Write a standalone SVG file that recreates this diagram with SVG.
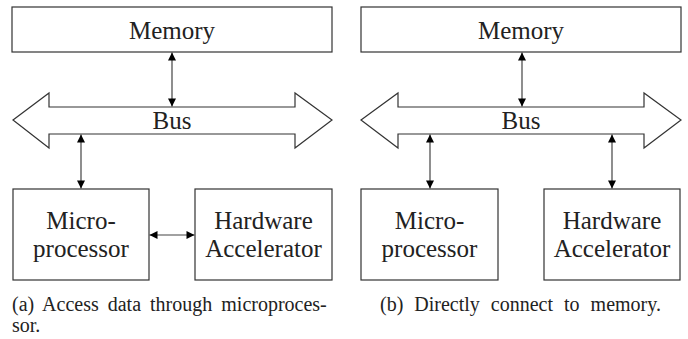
<svg xmlns="http://www.w3.org/2000/svg" width="688" height="339" viewBox="0 0 688 339">
  <style>
    .box { fill: #fff; stroke: #333; stroke-width: 1.2; }
    .bus { fill: #fff; stroke: #333; stroke-width: 1.2; stroke-linejoin: miter; }
    .lbl { font-family: 'Liberation Serif', Tinos, 'Times New Roman', 'DejaVu Serif', serif; font-size: 25px; fill: #222; text-anchor: middle; }
    .cap { font-family: 'Liberation Serif', Tinos, 'Times New Roman', 'DejaVu Serif', serif; font-size: 20px; fill: #222; }
    .link { stroke: #444; stroke-width: 1.2; fill: none; marker-start: url(#tip); marker-end: url(#tip); }
  </style>
  <defs>
    <marker id="tip" viewBox="0 0 10 10" refX="10" refY="5" markerWidth="9" markerHeight="8" markerUnits="userSpaceOnUse" orient="auto-start-reverse">
      <path d="M0,0 L10,5 L0,10 z" fill="#000"/>
    </marker>
  </defs>
  <rect width="688" height="339" fill="#fff"/>

  <!-- (a) access through the microprocessor -->
  <g id="a-memory">
    <rect class="box" x="12" y="7" width="320" height="45"/>
    <text class="lbl" x="172" y="38.5">Memory</text>
  </g>
  <g id="a-bus">
    <polygon class="bus" points="13,120 49,93 49,107 295,107 295,93 332,120 295,148 295,134 49,134 49,148"/>
    <text class="lbl" x="172" y="129">Bus</text>
  </g>
  <g id="a-micro">
    <rect class="box" x="13" y="189" width="136" height="91"/>
    <text class="lbl" x="81" y="229">Micro-</text>
    <text class="lbl" x="81" y="257">processor</text>
  </g>
  <g id="a-accel">
    <rect class="box" x="195" y="189" width="137" height="91"/>
    <text class="lbl" x="263.5" y="229">Hardware</text>
    <text class="lbl" x="263.5" y="257">Accelerator</text>
  </g>

  <!-- (b) accelerator attached directly to the bus -->
  <g id="b-memory">
    <rect class="box" x="361" y="7" width="320" height="45"/>
    <text class="lbl" x="521" y="38.5">Memory</text>
  </g>
  <g id="b-bus">
    <polygon class="bus" points="361,120 398,93 398,107 644,107 644,93 681,120 644,148 644,134 398,134 398,148"/>
    <text class="lbl" x="521" y="129">Bus</text>
  </g>
  <g id="b-micro">
    <rect class="box" x="361" y="189" width="137" height="91"/>
    <text class="lbl" x="429.5" y="229">Micro-</text>
    <text class="lbl" x="429.5" y="257">processor</text>
  </g>
  <g id="b-accel">
    <rect class="box" x="544" y="189" width="136" height="91"/>
    <text class="lbl" x="612" y="229">Hardware</text>
    <text class="lbl" x="612" y="257">Accelerator</text>
  </g>

  <g id="connectors">
    <line class="link" x1="172" y1="52.5" x2="172" y2="106.5"/>
    <line class="link" x1="81" y1="134.5" x2="81" y2="188.5"/>
    <line class="link" x1="149.5" y1="235" x2="194.5" y2="235"/>
    <line class="link" x1="522" y1="52.5" x2="522" y2="106.5"/>
    <line class="link" x1="430" y1="134.5" x2="430" y2="188.5"/>
    <line class="link" x1="612" y1="134.5" x2="612" y2="188.5"/>
  </g>

  <g id="captions">
    <text class="cap" x="12" y="311" word-spacing="4">(a) Access data through microproces-</text>
    <text class="cap" x="12" y="332">sor.</text>
    <text class="cap" x="520.5" y="311" text-anchor="middle" word-spacing="6">(b) Directly connect to memory.</text>
  </g>
</svg>
